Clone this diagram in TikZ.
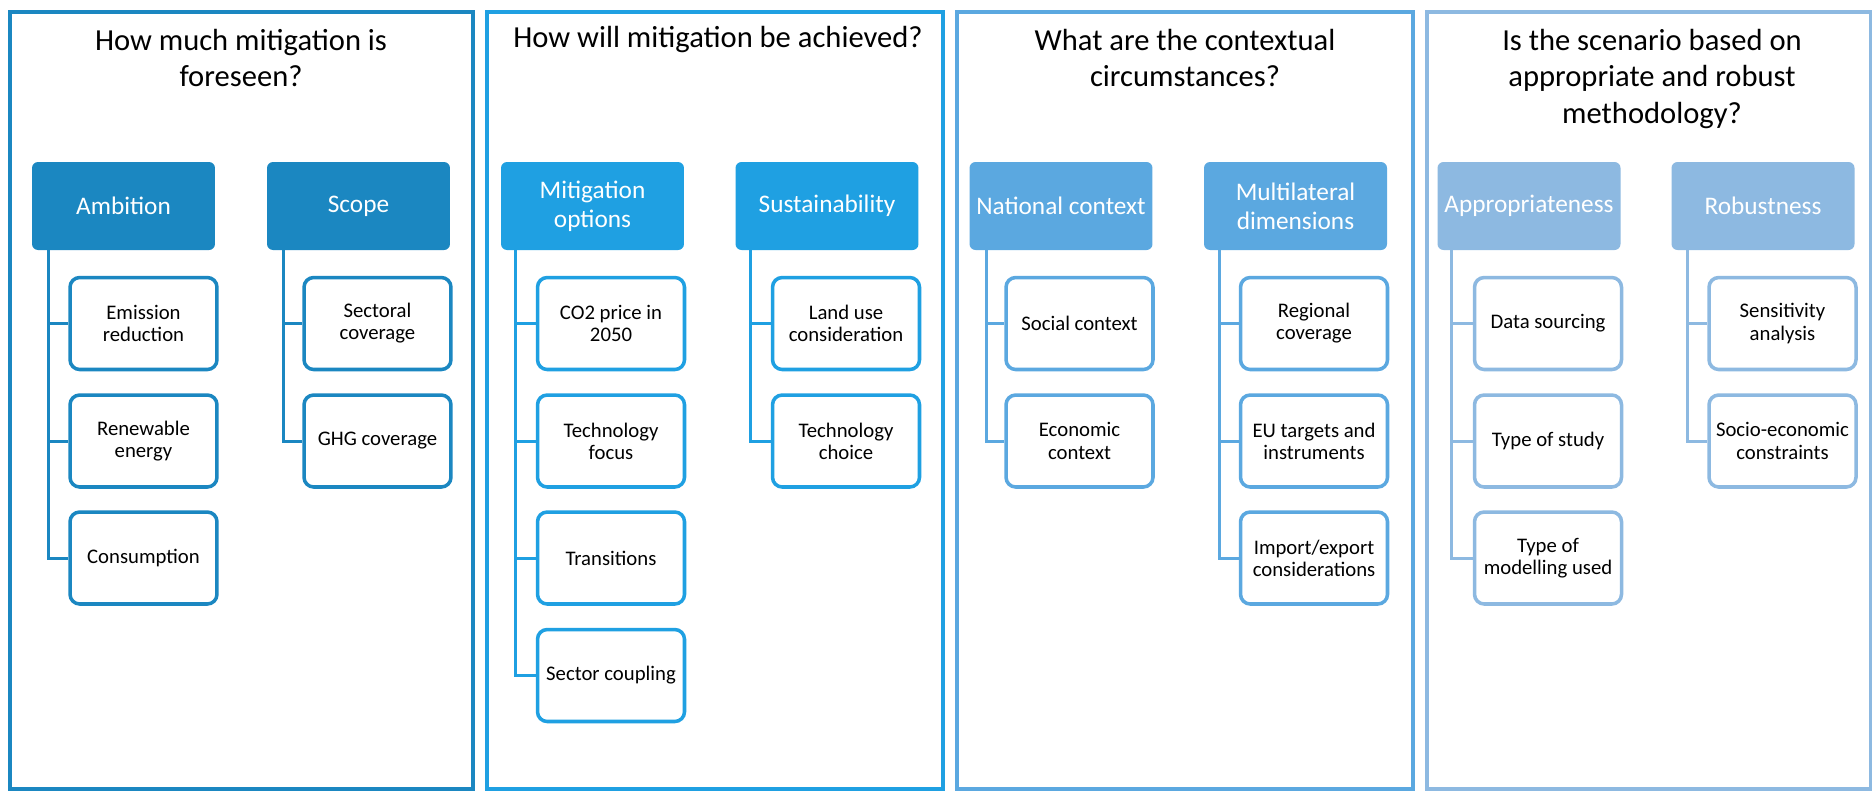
\documentclass[tikz,border=0pt]{standalone}
\usepackage{fontspec}
\setmainfont{Carlito}
\usepackage{tikz}
\usetikzlibrary{shapes}
\definecolor{blueA}{RGB}{27,135,193}
\definecolor{blueB}{RGB}{31,160,226}
\definecolor{blueC}{RGB}{91,168,224}
\definecolor{blueD}{RGB}{141,185,225}

\begin{document}
\begin{tikzpicture}[x=0.02cm,y=-0.02cm,
  panel/.style={draw=#1,line width=2.3pt},
  ttl/.style={align=center,font=\fontsize{17.4pt}{20.8pt}\selectfont},
  hdr/.style={fill=#1,rectangle,rounded corners=3.4pt,minimum width=3.66cm,minimum height=1.76cm,
    align=center,text=white,font=\fontsize{14.4pt}{16.4pt}\selectfont,inner sep=1pt},
  item/.style={draw=#1,fill=white,rectangle,rounded corners=5.5pt,line width=2pt,minimum width=2.94cm,
    minimum height=1.84cm,align=center,font=\fontsize{11.8pt}{12.6pt}\selectfont,inner sep=1pt},
  link/.style={draw=#1,line width=1.7pt}]

  \fill[white] (0,0) rectangle (1872,792);
  \useasboundingbox (0,0) rectangle (1872,792);

  \draw[panel=blueA] (10,12) rectangle (473,789);
  \draw[panel=blueB] (487,12) rectangle (943,789);
  \draw[panel=blueC] (957,12) rectangle (1413,789);
  \draw[panel=blueD] (1427,12) rectangle (1871,789);

  \node[ttl] at (241,58) (t1) {How much mitigation is\\foreseen?};
  \node[ttl] at (718,40) (t2) {How will mitigation be achieved?};
  \node[ttl] at (1185,58) (t3) {What are the contextual\\circumstances?};
  \node[ttl] at (1652,79) (t4) {Is the scenario based on\\appropriate and robust\\methodology?};

  \node[hdr=blueA] at (123.5,206) (amb) {Ambition};
  \node[item=blueA] at (143.5,323.5) (amb-1) {Emission\\reduction};
  \node[item=blueA] at (143.5,441) (amb-2) {Renewable\\energy};
  \node[item=blueA] at (143.5,558) (amb-3) {Consumption};
  \node[hdr=blueA] at (358.5,206) (scp) {Scope};
  \node[item=blueA] at (377.5,323.5) (scp-1) {Sectoral\\coverage};
  \node[item=blueA] at (377.5,441) (scp-2) {GHG coverage};

  \draw[link=blueA] ([xshift=0.34cm]amb.south west) |- (amb-1.west); \draw[link=blueA] ([xshift=0.34cm]amb.south west) |- (amb-2.west);
  \draw[link=blueA] ([xshift=0.34cm]amb.south west) |- (amb-3.west);
  \draw[link=blueA] ([xshift=0.34cm]scp.south west) |- (scp-1.west); \draw[link=blueA] ([xshift=0.34cm]scp.south west) |- (scp-2.west);

  \node[hdr=blueB] at (592.5,206) (mit) {Mitigation\\options};
  \node[item=blueB] at (611,323.5) (mit-1) {CO2 price in\\2050};
  \node[item=blueB] at (611,441) (mit-2) {Technology\\focus};
  \node[item=blueB] at (611,558) (mit-3) {Transitions};
  \node[item=blueB] at (611,675.5) (mit-4) {Sector coupling};
  \node[hdr=blueB] at (827,206) (sus) {Sustainability};
  \node[item=blueB] at (846,323.5) (sus-1) {Land use\\consideration};
  \node[item=blueB] at (846,441) (sus-2) {Technology\\choice};

  \draw[link=blueB] ([xshift=0.3cm]mit.south west) |- (mit-1.west); \draw[link=blueB] ([xshift=0.3cm]mit.south west) |- (mit-2.west);
  \draw[link=blueB] ([xshift=0.3cm]mit.south west) |- (mit-3.west); \draw[link=blueB] ([xshift=0.3cm]mit.south west) |- (mit-4.west);
  \draw[link=blueB] ([xshift=0.3cm]sus.south west) |- (sus-1.west); \draw[link=blueB] ([xshift=0.3cm]sus.south west) |- (sus-2.west);

  \node[hdr=blueC] at (1061,206) (nat) {National context};
  \node[item=blueC] at (1079.5,323.5) (nat-1) {Social context};
  \node[item=blueC] at (1079.5,441) (nat-2) {Economic\\context};
  \node[hdr=blueC] at (1295.5,206) (mul) {Multilateral\\dimensions};
  \node[item=blueC] at (1314,323.5) (mul-1) {Regional\\coverage};
  \node[item=blueC] at (1314,441) (mul-2) {EU targets and\\instruments};
  \node[item=blueC] at (1314,558) (mul-3) {Import/export\\considerations};

  \draw[link=blueC] ([xshift=0.34cm]nat.south west) |- (nat-1.west); \draw[link=blueC] ([xshift=0.34cm]nat.south west) |- (nat-2.west);
  \draw[link=blueC] ([xshift=0.32cm]mul.south west) |- (mul-1.west); \draw[link=blueC] ([xshift=0.32cm]mul.south west) |- (mul-2.west);
  \draw[link=blueC] ([xshift=0.32cm]mul.south west) |- (mul-3.west);

  \node[hdr=blueD] at (1529,206) (app) {Appropriateness};
  \node[item=blueD] at (1548,323.5) (app-1) {Data sourcing};
  \node[item=blueD] at (1548,441) (app-2) {Type of study};
  \node[item=blueD] at (1548,558) (app-3) {Type of\\modelling used};
  \node[hdr=blueD] at (1763,206) (rob) {Robustness};
  \node[item=blueD] at (1782.5,323.5) (rob-1) {Sensitivity\\analysis};
  \node[item=blueD] at (1782.5,441) (rob-2) {Socio-economic\\constraints};

  \draw[link=blueD] ([xshift=0.28cm]app.south west) |- (app-1.west); \draw[link=blueD] ([xshift=0.28cm]app.south west) |- (app-2.west);
  \draw[link=blueD] ([xshift=0.28cm]app.south west) |- (app-3.west);
  \draw[link=blueD] ([xshift=0.32cm]rob.south west) |- (rob-1.west); \draw[link=blueD] ([xshift=0.32cm]rob.south west) |- (rob-2.west);

\end{tikzpicture}
\end{document}
